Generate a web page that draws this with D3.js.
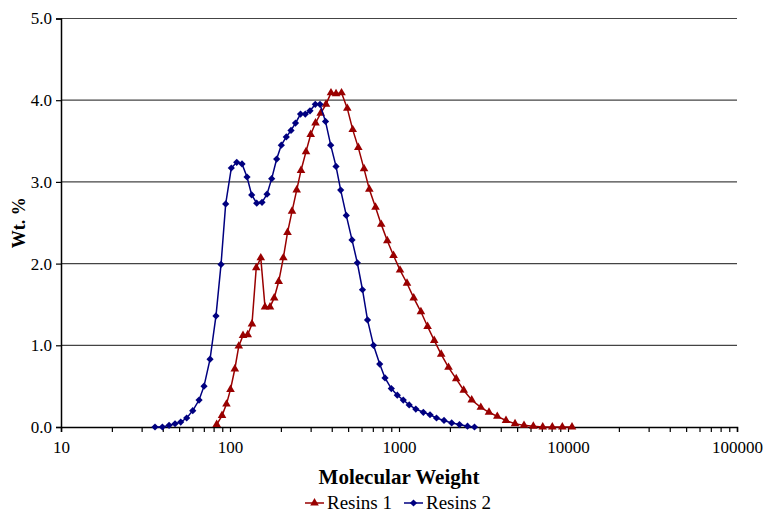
<!DOCTYPE html>
<html>
<head>
<meta charset="utf-8">
<script src="https://cdn.jsdelivr.net/npm/d3@7"></script>
<style>
  body { margin: 0; background: #fff; }
  svg text { font-family: "Liberation Serif", "Times New Roman", serif; fill: #000; }
</style>
</head>
<body>
<div id="chart"></div>
<script>
// Data: molecular weight and wt. %
const resins1MW = [83.4, 89.7, 95.3, 100.7, 106.8, 112.7, 119.4, 127.3, 134.9, 143.0, 152.1, 161.1, 172.5, 182.6, 194.2, 206.8, 218.9, 232.8, 248.1, 263.1, 281.7, 300.3, 320.6, 344.1, 369.8, 395.9, 424.0, 456.9, 494.4, 532.2, 574.4, 620.9, 667.4, 726.2, 784.9, 852.7, 928.0, 1014, 1115, 1222, 1348, 1476, 1616, 1777, 1963, 2180, 2415, 2693, 3048, 3408, 3816, 4297, 4859, 5491, 6233, 7087, 8074, 9254, 10560];
const resins1Wt = [0.03, 0.14, 0.28, 0.46, 0.71, 0.99, 1.12, 1.13, 1.26, 1.95, 2.07, 1.47, 1.47, 1.58, 1.78, 2.07, 2.38, 2.64, 2.90, 3.14, 3.37, 3.58, 3.72, 3.84, 3.95, 4.09, 4.08, 4.09, 3.90, 3.64, 3.42, 3.16, 2.91, 2.69, 2.48, 2.28, 2.10, 1.92, 1.76, 1.58, 1.41, 1.23, 1.06, 0.89, 0.73, 0.59, 0.45, 0.33, 0.24, 0.18, 0.13, 0.08, 0.04, 0.02, 0.01, 0.0, 0.0, 0.0, 0.0];

const resins2MW = [36.0, 39.8, 43.6, 47.3, 51.1, 55.4, 60.2, 65.6, 70.2, 76.2, 82.6, 88.5, 94.3, 101.8, 109.6, 117.8, 126.1, 134.4, 143.9, 154.7, 165.6, 176.5, 188.9, 201.2, 215.3, 229.6, 244.1, 261.4, 279.0, 297.4, 319.7, 340.8, 367.4, 394.4, 424.0, 451.9, 487.6, 527.2, 566.8, 608.1, 651.1, 706.7, 768.9, 826.5, 900.5, 977.2, 1060, 1149, 1257, 1393, 1526, 1667, 1847, 2050, 2280, 2543, 2797];
const resins2Wt = [0.0, 0.0, 0.02, 0.04, 0.06, 0.11, 0.20, 0.33, 0.50, 0.83, 1.36, 1.99, 2.73, 3.17, 3.24, 3.22, 3.06, 2.84, 2.74, 2.75, 2.85, 3.04, 3.28, 3.45, 3.55, 3.63, 3.72, 3.83, 3.83, 3.87, 3.95, 3.95, 3.74, 3.45, 3.19, 2.90, 2.59, 2.29, 2.01, 1.68, 1.31, 1.00, 0.77, 0.60, 0.47, 0.39, 0.33, 0.27, 0.22, 0.18, 0.15, 0.11, 0.08, 0.05, 0.03, 0.01, 0.0];

const yTicks = [0, 1, 2, 3, 4, 5];
const xMajor = [10, 100, 1000, 10000, 100000];
const seriesNames = ["Resins 1", "Resins 2"];

const width = 767, height = 512;
const margin = {top: 18.5, right: 30, bottom: 85, left: 61};
const red = "#990000", blue = "#000080";

const svg = d3.select("#chart").append("svg")
    .attr("width", width)
    .attr("height", height);

// Scales
const x = d3.scaleLog().domain([10, 100000]).range([margin.left, width - margin.right]);
const y = d3.scaleLinear().domain([0, 5]).range([height - margin.bottom, margin.top]);

// Horizontal gridlines
svg.append("g")
    .selectAll("line")
    .data(yTicks.filter(d => d > 0))
    .join("line")
    .attr("x1", x.range()[0]).attr("x2", x.range()[1])
    .attr("y1", d => y(d)).attr("y2", d => y(d))
    .attr("stroke", "#444").attr("stroke-width", 1.2);

// x axis with minor ticks for every 2..9
const xTickVals = [];
xMajor.forEach((d, i) => {
    xTickVals.push(d);
    if (i < xMajor.length - 1) for (let k = 2; k <= 9; k++) xTickVals.push(d * k);
});
const xAxis = svg.append("g")
    .attr("transform", `translate(0,${y(0)})`)
    .call(d3.axisBottom(x).tickValues(xTickVals).tickSize(5).tickPadding(8)
        .tickFormat(d => xMajor.includes(d) ? d3.format("d")(d) : ""));
xAxis.select(".domain").attr("stroke", "#000").attr("stroke-width", 1.5);
xAxis.selectAll(".tick line").attr("stroke", "#000").attr("stroke-width", 1.2);
xAxis.selectAll(".tick text").style("font-size", "17px").attr("dy", "0.75em");

// y axis
const yAxis = svg.append("g")
    .attr("transform", `translate(${x.range()[0]},0)`)
    .call(d3.axisLeft(y).tickValues(yTicks).tickSize(5).tickPadding(4).tickFormat(d3.format(".1f")));
yAxis.select(".domain").attr("stroke", "#000").attr("stroke-width", 1.5);
yAxis.selectAll(".tick line").attr("stroke", "#000").attr("stroke-width", 1.2);
yAxis.selectAll(".tick text").style("font-size", "17px");

// Axis titles
svg.append("text")
    .attr("x", (x.range()[0] + x.range()[1]) / 2)
    .attr("y", 484)
    .attr("text-anchor", "middle")
    .style("font-size", "21px").style("font-weight", "bold")
    .text("Molecular Weight");
svg.append("text")
    .attr("transform", `translate(25,${(y(0) + y(5)) / 2}) rotate(-90)`)
    .attr("text-anchor", "middle")
    .style("font-size", "18px").style("font-weight", "bold")
    .text("Wt. %");

// Series
const line = d3.line().x(d => x(d[0])).y(d => y(d[1]));
const tri = d3.symbol().type(d3.symbolTriangle).size(32);
const dia = d3.symbol().type(d3.symbolSquare).size(26);

const s1 = d3.zip(resins1MW, resins1Wt);
const s2 = d3.zip(resins2MW, resins2Wt);

svg.append("path").datum(s1)
    .attr("fill", "none").attr("stroke", red).attr("stroke-width", 1.5)
    .attr("d", line);
svg.append("g").selectAll("path").data(s1).join("path")
    .attr("transform", d => `translate(${x(d[0])},${y(d[1])})`)
    .attr("d", tri).attr("fill", red);

svg.append("path").datum(s2)
    .attr("fill", "none").attr("stroke", blue).attr("stroke-width", 1.5)
    .attr("d", line);
svg.append("g").selectAll("path").data(s2).join("path")
    .attr("transform", d => `translate(${x(d[0])},${y(d[1])}) rotate(45)`)
    .attr("d", dia).attr("fill", blue);

// Legend
const legend = svg.append("g").attr("transform", "translate(305,503)");
const items = [
    {name: seriesNames[0], color: red, sym: tri, rot: 0, dx: 0},
    {name: seriesNames[1], color: blue, sym: dia, rot: 45, dx: 99}
];
items.forEach(it => {
    const g = legend.append("g").attr("transform", `translate(${it.dx},0)`);
    g.append("line").attr("x1", 0).attr("x2", 19).attr("y1", 0).attr("y2", 0)
        .attr("stroke", it.color).attr("stroke-width", 1.5);
    g.append("path").attr("transform", `translate(9.5,0) rotate(${it.rot})`)
        .attr("d", it.sym).attr("fill", it.color);
    g.append("text").attr("x", 22).attr("y", 6)
        .style("font-size", "19px").text(it.name);
});
</script>
</body>
</html>
